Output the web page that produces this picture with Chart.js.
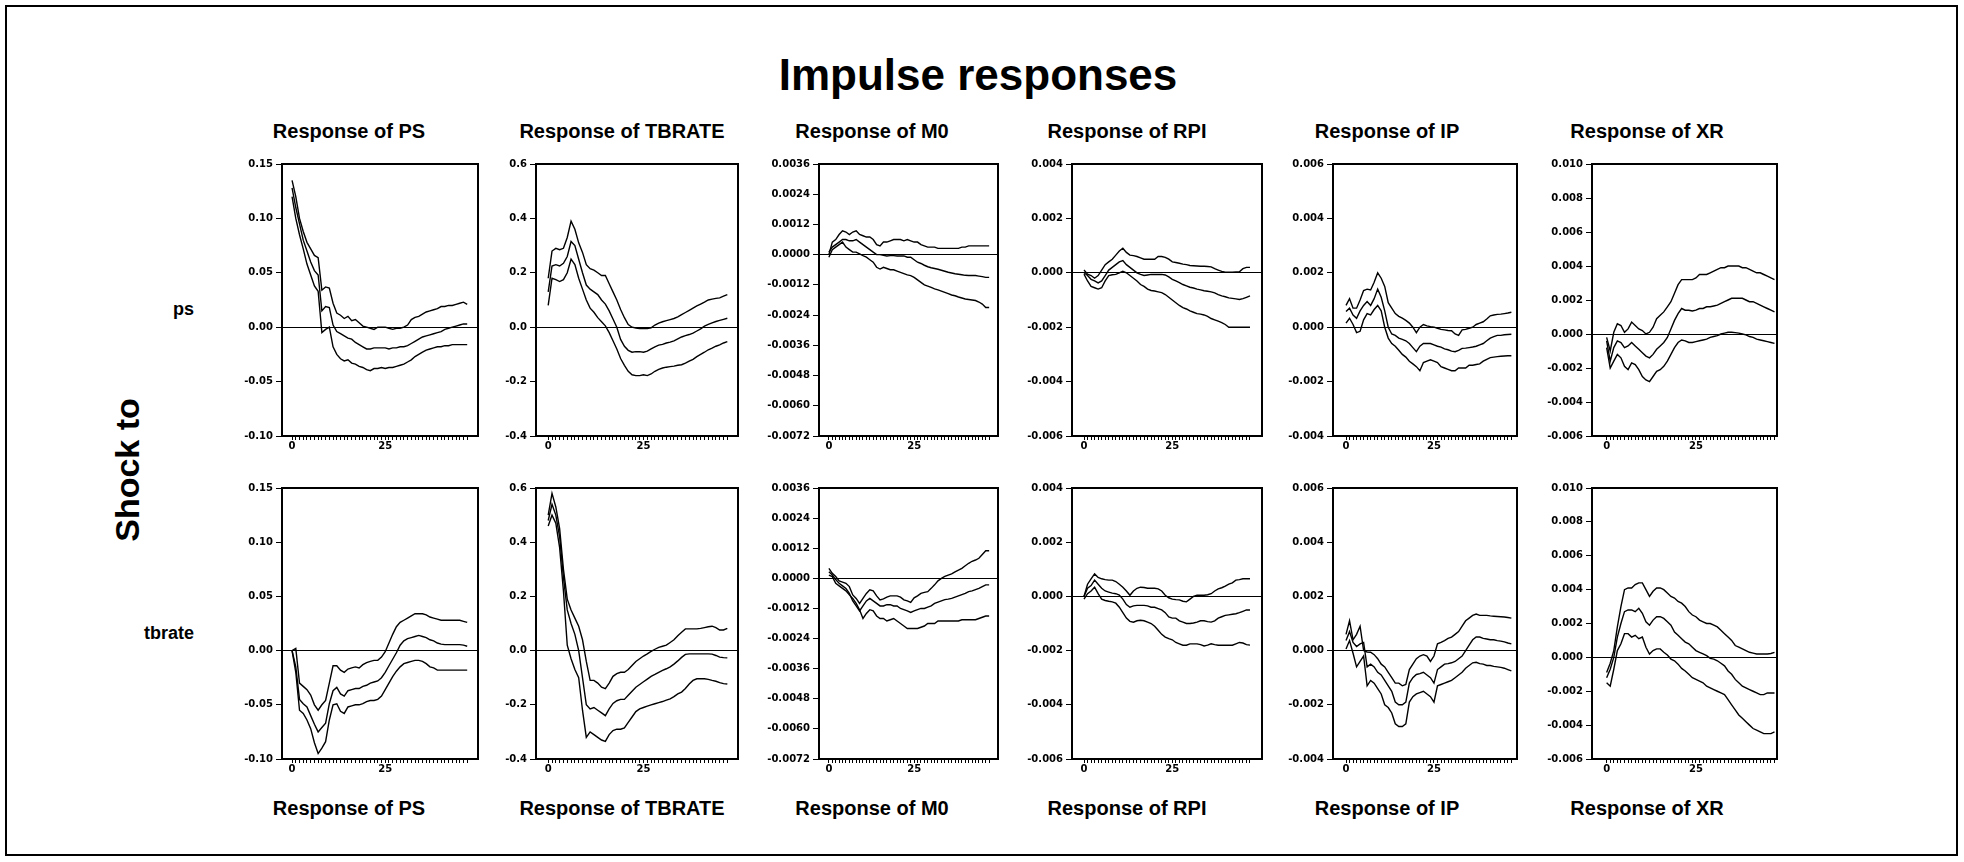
<!DOCTYPE html>
<html>
<head>
<meta charset="utf-8">
<title>Impulse responses</title>
<script src="https://cdn.jsdelivr.net/npm/chart.js@4.4.1/dist/chart.umd.min.js"></script>
<style>
  html, body { margin: 0; padding: 0; background: #fff; }
  body { width: 1964px; height: 862px; position: relative; overflow: hidden; font-family: "Liberation Sans", Arial, sans-serif; color: #000; }
  .frame { position: absolute; left: 5px; top: 5px; width: 1953px; height: 851px; border: 2px solid #000; box-sizing: border-box; }
  .lbl { position: absolute; font-weight: bold; white-space: nowrap; transform: translate(-50%, -50%); }
  canvas { position: absolute; }
</style>
</head>
<body>
<div class="frame"></div>
<div class="lbl" style="left:978px;top:75px;font-size:44px;">Impulse responses</div>
<div class="lbl" style="left:127px;top:470px;font-size:34px;transform:translate(-50%,-50%) rotate(-90deg);">Shock to</div>
<script>
// horizon (periods) and tick labels
const periods = [0,1,2,3,4,5,6,7,8,9,10,11,12,13,14,15,16,17,18,19,20,21,22,23,24,25,26,27,28,29,30,31,32,33,34,35,36,37,38,39,40,41,42,43,44,45,46,47];
const xTickLabels = [0, 25];

const responseNames = ['PS', 'TBRATE', 'M0', 'RPI', 'IP', 'XR'];
const shockNames = ['ps', 'tbrate'];

const yMin = [-0.10, -0.4, -0.0072, -0.006, -0.004, -0.006];
const yMax = [0.15, 0.6, 0.0036, 0.004, 0.006, 0.010];
const yStep = [0.05, 0.2, 0.0012, 0.002, 0.002, 0.002];
const yDecimals = [2, 1, 4, 3, 3, 3];

// shock to ps
const ps_PS_hi  = [0.135,0.12,0.10,0.088,0.078,0.072,0.066,0.064,0.034,0.037,0.036,0.022,0.013,0.011,0.008,0.010,0.006,0.007,0.004,0.001,0.000,-0.001,-0.002,0.000,0.000,0.000,-0.001,-0.002,-0.001,-0.001,0.000,0.002,0.007,0.009,0.010,0.012,0.014,0.015,0.016,0.017,0.019,0.019,0.020,0.020,0.021,0.022,0.023,0.021];
const ps_PS_mid = [0.128,0.11,0.095,0.08,0.07,0.06,0.052,0.048,0.015,0.019,0.018,0.002,-0.004,-0.006,-0.008,-0.010,-0.011,-0.014,-0.016,-0.018,-0.020,-0.020,-0.019,-0.019,-0.019,-0.019,-0.020,-0.019,-0.019,-0.018,-0.018,-0.017,-0.015,-0.013,-0.011,-0.009,-0.008,-0.007,-0.006,-0.005,-0.004,-0.002,-0.001,0.000,0.001,0.002,0.003,0.003];
const ps_PS_lo  = [0.12,0.10,0.085,0.072,0.058,0.048,0.038,0.033,-0.005,-0.002,0.000,-0.018,-0.025,-0.029,-0.031,-0.030,-0.033,-0.034,-0.036,-0.037,-0.039,-0.040,-0.038,-0.038,-0.037,-0.038,-0.037,-0.037,-0.036,-0.035,-0.034,-0.032,-0.030,-0.027,-0.025,-0.023,-0.021,-0.020,-0.019,-0.018,-0.018,-0.017,-0.017,-0.016,-0.016,-0.016,-0.016,-0.016];

const ps_TBRATE_hi  = [0.18,0.28,0.29,0.285,0.29,0.33,0.39,0.36,0.31,0.275,0.23,0.215,0.21,0.20,0.19,0.19,0.16,0.13,0.10,0.065,0.035,0.01,0.0,-0.003,-0.005,-0.005,-0.005,-0.002,0.008,0.015,0.02,0.024,0.028,0.032,0.038,0.046,0.054,0.062,0.07,0.078,0.085,0.092,0.10,0.103,0.106,0.108,0.114,0.12];
const ps_TBRATE_mid = [0.13,0.225,0.23,0.225,0.235,0.26,0.315,0.30,0.25,0.20,0.155,0.14,0.13,0.12,0.10,0.085,0.06,0.03,0.0,-0.045,-0.07,-0.085,-0.092,-0.09,-0.09,-0.092,-0.088,-0.08,-0.072,-0.066,-0.063,-0.058,-0.055,-0.05,-0.043,-0.036,-0.031,-0.027,-0.022,-0.014,-0.006,0.004,0.01,0.016,0.021,0.025,0.029,0.033];
const ps_TBRATE_lo  = [0.08,0.18,0.175,0.168,0.175,0.20,0.25,0.23,0.18,0.14,0.10,0.07,0.055,0.035,0.02,0.005,-0.02,-0.05,-0.08,-0.115,-0.14,-0.162,-0.175,-0.178,-0.178,-0.175,-0.178,-0.172,-0.162,-0.155,-0.15,-0.147,-0.145,-0.143,-0.14,-0.138,-0.132,-0.125,-0.118,-0.108,-0.10,-0.092,-0.083,-0.077,-0.07,-0.065,-0.058,-0.053];

const ps_M0_hi  = [0.0,0.0005,0.0006,0.0008,0.00095,0.0009,0.0008,0.0009,0.00095,0.0008,0.00075,0.0007,0.0007,0.0006,0.0004,0.00035,0.0005,0.0005,0.00055,0.0006,0.0006,0.0006,0.00055,0.0006,0.00055,0.0005,0.0005,0.0004,0.00035,0.0003,0.0003,0.0003,0.00025,0.00025,0.00025,0.00025,0.00025,0.00025,0.00025,0.0003,0.0003,0.00035,0.00035,0.00035,0.00035,0.00035,0.00035,0.00035];
const ps_M0_mid = [0.0001,0.0003,0.0004,0.0005,0.0006,0.0006,0.00055,0.00055,0.0006,0.0005,0.0004,0.0003,0.0002,0.0001,0.0,0.0,-0.00003,-0.00005,-0.00004,-0.00004,-0.00005,-0.00005,-0.00005,-0.0001,-0.0001,-0.0002,-0.0003,-0.00035,-0.00042,-0.00048,-0.00052,-0.00055,-0.00058,-0.00062,-0.00066,-0.0007,-0.00073,-0.00076,-0.00078,-0.0008,-0.00082,-0.00083,-0.00083,-0.00083,-0.00085,-0.00087,-0.0009,-0.0009];
const ps_M0_lo  = [-0.0001,0.0002,0.0003,0.0004,0.0005,0.0003,0.0002,0.0001,0.0001,0.00003,-0.00004,-0.0001,-0.0002,-0.0003,-0.0005,-0.00057,-0.0005,-0.00055,-0.0006,-0.0006,-0.00065,-0.0007,-0.00075,-0.0008,-0.00083,-0.0009,-0.001,-0.0011,-0.0012,-0.00125,-0.0013,-0.00136,-0.0014,-0.00145,-0.0015,-0.00155,-0.0016,-0.00163,-0.00168,-0.00172,-0.00176,-0.00178,-0.0018,-0.00182,-0.00188,-0.00196,-0.0021,-0.0021];

const ps_RPI_hi  = [0.0001,-0.00005,-0.0001,-0.0002,-0.0001,0.0001,0.0003,0.0004,0.0005,0.00065,0.0008,0.0009,0.00075,0.00065,0.00063,0.0006,0.00055,0.0005,0.0005,0.0005,0.0005,0.0006,0.0006,0.00057,0.0005,0.0004,0.00038,0.00035,0.00032,0.0003,0.00027,0.00026,0.00025,0.00024,0.00024,0.00023,0.00022,0.00015,0.0001,0.00005,0.00002,0.00002,0.00002,0.00003,0.00004,0.00015,0.0002,0.0002];
const ps_RPI_mid = [0.0,-0.0001,-0.00024,-0.0003,-0.00037,-0.0003,-0.0001,0.0001,0.0002,0.0003,0.0004,0.00045,0.0003,0.0002,0.0001,0.0,-0.00006,-0.0001,-0.00008,-0.00006,-0.00006,-0.00006,-0.00006,-0.00008,-0.00015,-0.00024,-0.0003,-0.00036,-0.00043,-0.00048,-0.00053,-0.00056,-0.0006,-0.00063,-0.00066,-0.00068,-0.0007,-0.00074,-0.0008,-0.00085,-0.00088,-0.00092,-0.00094,-0.00096,-0.00098,-0.00095,-0.0009,-0.00085];
const ps_RPI_lo  = [-0.00005,-0.0003,-0.0005,-0.00055,-0.0006,-0.00055,-0.0003,-0.0001,-0.00007,-0.00006,0.0,0.00006,0.0,-0.0001,-0.0002,-0.0003,-0.00043,-0.0005,-0.0006,-0.00065,-0.00067,-0.0007,-0.00073,-0.0008,-0.0009,-0.001,-0.0011,-0.0012,-0.00128,-0.00133,-0.0014,-0.00145,-0.0015,-0.00152,-0.00155,-0.0016,-0.00168,-0.00173,-0.00178,-0.00183,-0.0019,-0.002,-0.002,-0.002,-0.002,-0.002,-0.002,-0.002];

const ps_IP_hi  = [0.0008,0.00105,0.0007,0.0007,0.001,0.00135,0.0014,0.00137,0.00165,0.002,0.0018,0.0015,0.0009,0.0007,0.0005,0.0004,0.00033,0.00025,0.00015,0.0,-0.0002,0.0,0.0001,0.00005,0.00002,0.0,-0.00004,-0.00008,-0.0001,-0.00012,-0.00013,-0.00025,-0.0003,-0.0001,-0.00008,-0.00004,0.0,0.0001,0.00015,0.0002,0.0003,0.00042,0.00045,0.00047,0.00048,0.0005,0.00052,0.00055];
const ps_IP_mid = [0.00058,0.0007,0.00045,0.00033,0.0006,0.0008,0.00094,0.0008,0.00105,0.0014,0.0011,0.0006,0.0,-0.00025,-0.0003,-0.0004,-0.00045,-0.0005,-0.0006,-0.00075,-0.0009,-0.0007,-0.0006,-0.0006,-0.0006,-0.00065,-0.0007,-0.00073,-0.0008,-0.00083,-0.00088,-0.0009,-0.00085,-0.00078,-0.00077,-0.00075,-0.00073,-0.0007,-0.00065,-0.0006,-0.0005,-0.0004,-0.00035,-0.0003,-0.0003,-0.00028,-0.00027,-0.00026];
const ps_IP_lo  = [0.00015,0.00033,0.0001,-0.0002,-0.00015,0.00027,0.0005,0.00045,0.00065,0.0008,0.0006,0.0,-0.0004,-0.0006,-0.0007,-0.00085,-0.001,-0.0011,-0.00125,-0.00135,-0.00145,-0.0016,-0.0013,-0.00125,-0.0012,-0.00125,-0.0013,-0.00145,-0.0015,-0.00155,-0.0016,-0.0016,-0.0015,-0.0015,-0.0015,-0.0014,-0.0014,-0.00137,-0.00135,-0.00125,-0.00118,-0.00112,-0.0011,-0.00108,-0.00107,-0.00106,-0.00105,-0.00105];

const ps_XR_hi  = [-0.0002,-0.001,0.0001,0.0006,0.0005,0.0001,0.0003,0.0007,0.0005,0.0003,0.0002,0.0,0.0001,0.0004,0.0009,0.0011,0.0013,0.0016,0.0019,0.0024,0.0029,0.0032,0.0032,0.0032,0.0032,0.0033,0.0035,0.0035,0.0035,0.0036,0.0037,0.0038,0.0039,0.0039,0.004,0.004,0.004,0.004,0.0039,0.0039,0.0038,0.0037,0.0036,0.0036,0.0035,0.0034,0.0033,0.0032];
const ps_XR_mid = [-0.0004,-0.0016,-0.0008,-0.0004,-0.0005,-0.0008,-0.0007,-0.0005,-0.0007,-0.0009,-0.0011,-0.0013,-0.0014,-0.0012,-0.0009,-0.0007,-0.0005,-0.0002,0.0003,0.0008,0.0012,0.0015,0.0014,0.0014,0.00135,0.0014,0.0015,0.0015,0.0016,0.0016,0.00165,0.0017,0.0018,0.0019,0.002,0.0021,0.0021,0.0021,0.0021,0.002,0.0019,0.0019,0.0018,0.0017,0.0016,0.0015,0.0014,0.0013];
const ps_XR_lo  = [-0.0008,-0.002,-0.0016,-0.0012,-0.0014,-0.0019,-0.0021,-0.0017,-0.0018,-0.0021,-0.0025,-0.0027,-0.0028,-0.0025,-0.0022,-0.0021,-0.0019,-0.0016,-0.0012,-0.0008,-0.0005,-0.00035,-0.0004,-0.0005,-0.0005,-0.00045,-0.0004,-0.00035,-0.0003,-0.0002,-0.00015,-0.0001,0.0,0.00005,0.0001,0.0001,0.00008,0.00005,0.0,-0.00005,-0.00015,-0.0002,-0.0003,-0.00035,-0.0004,-0.00045,-0.0005,-0.00055];

// shock to tbrate
const tb_PS_hi  = [0.0,0.002,-0.03,-0.033,-0.036,-0.041,-0.05,-0.055,-0.05,-0.046,-0.03,-0.014,-0.014,-0.018,-0.02,-0.017,-0.016,-0.015,-0.016,-0.013,-0.011,-0.01,-0.009,-0.009,-0.006,-0.001,0.007,0.015,0.022,0.026,0.028,0.03,0.032,0.034,0.034,0.034,0.033,0.031,0.03,0.029,0.028,0.028,0.028,0.028,0.028,0.028,0.027,0.026];
const tb_PS_mid = [0.0,-0.015,-0.045,-0.049,-0.052,-0.06,-0.068,-0.075,-0.071,-0.067,-0.049,-0.037,-0.034,-0.04,-0.042,-0.037,-0.036,-0.035,-0.035,-0.033,-0.032,-0.03,-0.029,-0.028,-0.025,-0.02,-0.014,-0.008,-0.002,0.005,0.009,0.011,0.012,0.013,0.014,0.013,0.012,0.01,0.009,0.007,0.006,0.0055,0.0055,0.0055,0.0055,0.0055,0.005,0.004];
const tb_PS_lo  = [0.0,-0.02,-0.055,-0.058,-0.064,-0.072,-0.085,-0.095,-0.09,-0.084,-0.064,-0.05,-0.049,-0.056,-0.058,-0.052,-0.051,-0.05,-0.05,-0.049,-0.047,-0.046,-0.046,-0.045,-0.042,-0.036,-0.03,-0.024,-0.019,-0.015,-0.012,-0.011,-0.01,-0.009,-0.009,-0.01,-0.012,-0.015,-0.016,-0.018,-0.018,-0.018,-0.018,-0.018,-0.018,-0.018,-0.018,-0.018];

const tb_TBRATE_hi  = [0.5,0.58,0.53,0.45,0.3,0.19,0.15,0.12,0.09,0.04,-0.04,-0.11,-0.11,-0.12,-0.135,-0.14,-0.12,-0.095,-0.085,-0.08,-0.08,-0.07,-0.055,-0.04,-0.03,-0.02,-0.012,-0.003,0.005,0.012,0.016,0.02,0.03,0.04,0.055,0.068,0.08,0.08,0.08,0.08,0.082,0.085,0.088,0.09,0.085,0.076,0.076,0.082];
const tb_TBRATE_mid = [0.48,0.54,0.5,0.42,0.27,0.15,0.1,0.06,0.0,-0.1,-0.2,-0.215,-0.21,-0.22,-0.23,-0.24,-0.215,-0.195,-0.185,-0.18,-0.18,-0.165,-0.15,-0.135,-0.125,-0.115,-0.105,-0.095,-0.088,-0.08,-0.073,-0.067,-0.06,-0.05,-0.038,-0.025,-0.014,-0.012,-0.012,-0.012,-0.012,-0.012,-0.012,-0.013,-0.018,-0.024,-0.026,-0.027];
const tb_TBRATE_lo  = [0.46,0.5,0.47,0.38,0.22,0.02,-0.03,-0.07,-0.1,-0.22,-0.32,-0.3,-0.31,-0.32,-0.33,-0.335,-0.31,-0.295,-0.29,-0.29,-0.285,-0.265,-0.245,-0.225,-0.215,-0.21,-0.205,-0.2,-0.196,-0.192,-0.188,-0.183,-0.178,-0.17,-0.16,-0.153,-0.14,-0.123,-0.11,-0.104,-0.104,-0.104,-0.106,-0.11,-0.113,-0.118,-0.122,-0.123];

const tb_M0_hi  = [0.0004,0.0002,0.00007,-0.0001,-0.00015,-0.0002,-0.00033,-0.00066,-0.0008,-0.001,-0.0008,-0.0006,-0.00046,-0.0005,-0.0007,-0.00086,-0.00082,-0.00075,-0.0007,-0.0007,-0.0007,-0.00075,-0.00086,-0.0009,-0.00096,-0.00078,-0.0007,-0.0006,-0.00056,-0.00053,-0.0004,-0.00026,-0.0001,0.0,0.00008,0.00013,0.00018,0.00026,0.00033,0.0004,0.0005,0.0006,0.00068,0.00073,0.0008,0.00095,0.0011,0.0011];
const tb_M0_mid = [0.00026,0.00013,-0.00005,-0.0002,-0.0003,-0.0004,-0.0006,-0.0009,-0.0011,-0.0013,-0.0011,-0.0009,-0.0008,-0.0009,-0.001,-0.0011,-0.0011,-0.00105,-0.00105,-0.0011,-0.0011,-0.0012,-0.00125,-0.0013,-0.00136,-0.0013,-0.00125,-0.0012,-0.0012,-0.00115,-0.0011,-0.001,-0.00095,-0.0009,-0.00085,-0.00083,-0.0008,-0.00075,-0.0007,-0.00065,-0.0006,-0.00053,-0.0005,-0.00045,-0.0004,-0.00033,-0.00026,-0.00026];
const tb_M0_lo  = [0.00013,0.00007,-0.0002,-0.0003,-0.0004,-0.0005,-0.00066,-0.0008,-0.001,-0.00125,-0.0016,-0.0014,-0.00125,-0.0013,-0.0015,-0.0016,-0.0016,-0.0017,-0.00165,-0.0016,-0.0017,-0.0018,-0.0019,-0.002,-0.002,-0.002,-0.002,-0.00195,-0.0019,-0.0018,-0.0018,-0.0018,-0.0017,-0.0017,-0.0017,-0.0017,-0.0017,-0.0017,-0.0017,-0.00165,-0.00165,-0.00165,-0.00165,-0.00165,-0.0016,-0.00155,-0.0015,-0.0015];

const tb_RPI_hi  = [0.0,0.00045,0.00065,0.00083,0.0007,0.00065,0.00062,0.0006,0.0006,0.00055,0.00045,0.00034,0.0002,0.00004,0.0002,0.0003,0.00034,0.00033,0.0003,0.0003,0.0003,0.00028,0.0002,0.00004,-0.00005,-0.0001,-0.00012,-0.00013,-0.00018,-0.0002,-0.0001,0.0,0.00004,0.00004,0.00004,0.00006,0.0001,0.0002,0.00028,0.00032,0.00038,0.00045,0.0005,0.0006,0.00062,0.00065,0.00065,0.00065];
const tb_RPI_mid = [0.0,0.0003,0.0004,0.0006,0.00045,0.0003,0.0002,0.00016,0.00012,0.0001,0.00005,-0.0001,-0.0003,-0.0004,-0.00035,-0.00033,-0.00033,-0.00033,-0.00035,-0.0004,-0.0004,-0.00045,-0.0005,-0.0006,-0.00076,-0.0008,-0.0008,-0.0009,-0.00095,-0.001,-0.001,-0.00098,-0.00095,-0.0009,-0.0009,-0.00093,-0.00095,-0.0009,-0.0008,-0.00075,-0.0007,-0.00068,-0.00066,-0.00064,-0.0006,-0.00055,-0.0005,-0.0005];
const tb_RPI_lo  = [-0.0001,0.0001,0.0002,0.00034,0.0001,-0.0001,-0.00015,-0.00018,-0.0002,-0.00025,-0.0004,-0.0006,-0.0008,-0.00092,-0.00095,-0.0009,-0.00088,-0.0009,-0.00095,-0.001,-0.0011,-0.00125,-0.0014,-0.0015,-0.00156,-0.0016,-0.0017,-0.00175,-0.0018,-0.0018,-0.00175,-0.00175,-0.00175,-0.00178,-0.00183,-0.0018,-0.00175,-0.00178,-0.0018,-0.0018,-0.0018,-0.0018,-0.0018,-0.00175,-0.0017,-0.00172,-0.00178,-0.0018];

const tb_IP_hi  = [0.0006,0.0011,0.0004,0.0006,0.0009,0.0,-0.00005,-0.00006,-0.00015,-0.0003,-0.0005,-0.0006,-0.0008,-0.001,-0.0012,-0.0012,-0.0013,-0.00125,-0.0007,-0.0005,-0.0003,-0.0002,-0.00015,-0.0002,-0.0004,-0.0002,0.00025,0.0003,0.00037,0.00045,0.0005,0.0006,0.0007,0.0009,0.0011,0.0012,0.0013,0.00135,0.0013,0.0013,0.0013,0.00128,0.00127,0.00126,0.00125,0.00124,0.00122,0.0012];
const tb_IP_mid = [0.00037,0.0007,0.0003,0.00015,0.00025,0.0003,-0.0006,-0.0005,-0.0006,-0.0008,-0.0009,-0.0011,-0.0013,-0.0015,-0.0019,-0.002,-0.002,-0.0019,-0.0012,-0.001,-0.00088,-0.00085,-0.0008,-0.0009,-0.001,-0.0012,-0.0007,-0.0006,-0.0005,-0.00048,-0.00045,-0.0004,-0.0003,-0.0002,0.0,0.0002,0.0004,0.0005,0.0005,0.00045,0.00043,0.0004,0.0004,0.00037,0.00035,0.00032,0.00028,0.00025];
const tb_IP_lo  = [0.00006,0.00037,-0.0001,-0.0006,-0.0004,-0.0002,-0.0013,-0.0011,-0.0012,-0.0014,-0.0016,-0.002,-0.0021,-0.0023,-0.0027,-0.0028,-0.0028,-0.0027,-0.0019,-0.0017,-0.0016,-0.00155,-0.0015,-0.0016,-0.0017,-0.0019,-0.0013,-0.00125,-0.0012,-0.00115,-0.0011,-0.001,-0.0009,-0.0008,-0.00065,-0.00055,-0.00045,-0.00043,-0.00048,-0.0005,-0.00055,-0.00055,-0.00058,-0.0006,-0.00062,-0.00065,-0.0007,-0.00075];

const tb_XR_hi  = [-0.0009,-0.00035,0.0004,0.0018,0.003,0.004,0.0041,0.0041,0.0043,0.0044,0.0044,0.004,0.0036,0.0039,0.0041,0.0041,0.004,0.0038,0.0036,0.0035,0.0033,0.0032,0.003,0.0027,0.0025,0.0024,0.0022,0.0021,0.002,0.002,0.0019,0.0018,0.0016,0.0014,0.0012,0.001,0.0007,0.0006,0.0005,0.0004,0.0003,0.00025,0.0002,0.0002,0.0002,0.0002,0.00023,0.0003];
const tb_XR_mid = [-0.0012,-0.0007,0.0,0.0012,0.002,0.0027,0.0028,0.0028,0.0027,0.0029,0.0026,0.0021,0.0019,0.0022,0.0024,0.0024,0.0023,0.0021,0.0019,0.0015,0.0013,0.0011,0.0009,0.0008,0.0006,0.0004,0.0003,0.0002,0.0001,-0.00006,-0.0001,-0.0002,-0.00035,-0.0005,-0.0008,-0.001,-0.0013,-0.0015,-0.0017,-0.0018,-0.0019,-0.002,-0.0021,-0.0022,-0.0022,-0.0021,-0.0021,-0.0021];
const tb_XR_lo  = [-0.0015,-0.0017,-0.0007,0.0004,0.0008,0.0014,0.0014,0.0012,0.0013,0.0011,0.0012,0.0006,0.0002,0.0004,0.0005,0.0005,0.0003,0.00014,-0.0001,-0.0002,-0.0004,-0.00065,-0.0008,-0.001,-0.0012,-0.0013,-0.0014,-0.0015,-0.0017,-0.0018,-0.0019,-0.002,-0.0021,-0.0022,-0.0025,-0.0028,-0.0031,-0.0034,-0.0036,-0.0038,-0.004,-0.0042,-0.0043,-0.0044,-0.0045,-0.0045,-0.0045,-0.0044];

const panels = [
  [[ps_PS_lo, ps_PS_mid, ps_PS_hi], [ps_TBRATE_lo, ps_TBRATE_mid, ps_TBRATE_hi], [ps_M0_lo, ps_M0_mid, ps_M0_hi],
   [ps_RPI_lo, ps_RPI_mid, ps_RPI_hi], [ps_IP_lo, ps_IP_mid, ps_IP_hi], [ps_XR_lo, ps_XR_mid, ps_XR_hi]],
  [[tb_PS_lo, tb_PS_mid, tb_PS_hi], [tb_TBRATE_lo, tb_TBRATE_mid, tb_TBRATE_hi], [tb_M0_lo, tb_M0_mid, tb_M0_hi],
   [tb_RPI_lo, tb_RPI_mid, tb_RPI_hi], [tb_IP_lo, tb_IP_mid, tb_IP_hi], [tb_XR_lo, tb_XR_mid, tb_XR_hi]]
];

// page layout (pixels)
const colBounds = [[282, 478], [536, 738], [819, 998], [1072, 1262], [1333, 1517], [1592, 1777]];
const rowBounds = [[163, 436], [487, 759]];
const xMin = [-2.7, -3.2, -2.9, -3.4, -3.7, -4.1];
const xMax = [49.9, 49.8, 49.6, 50.4, 48.6, 47.7];
const titleCenters = [349, 622, 872, 1127, 1387, 1647];
const YW = 62, PT = 8, PR = 4, XH = 22;

const tickFont = { family: 'DejaVu Sans', size: 10, weight: 'bold' };

const boxPlugin = {
  id: 'box',
  afterDraw(chart) {
    const a = chart.chartArea, c = chart.ctx;
    c.save();
    c.strokeStyle = '#000';
    c.lineWidth = 2;
    c.strokeRect(a.left, a.top, a.right - a.left, a.bottom - a.top);
    c.restore();
  }
};

function addLabel(text, x, y, size, extra) {
  const d = document.createElement('div');
  d.className = 'lbl';
  d.textContent = text;
  d.style.left = x + 'px';
  d.style.top = y + 'px';
  d.style.fontSize = size + 'px';
  if (extra) Object.assign(d.style, extra);
  document.body.appendChild(d);
}

responseNames.forEach((name, c) => {
  addLabel('Response of ' + name, titleCenters[c], 131, 20);
  addLabel('Response of ' + name, titleCenters[c], 808, 20);
});
addLabel(shockNames[0], 194, 309, 18, { transform: 'translate(-100%,-50%)' });
addLabel(shockNames[1], 194, 633, 18, { transform: 'translate(-100%,-50%)' });

for (let r = 0; r < 2; r++) {
  for (let c = 0; c < 6; c++) {
    const [L, R] = colBounds[c];
    const [T, B] = rowBounds[r];
    const cv = document.createElement('canvas');
    const w = YW + (R - L) + PR, h = PT + (B - T) + XH;
    cv.width = w; cv.height = h;
    cv.style.left = (L - YW) + 'px';
    cv.style.top = (T - PT) + 'px';
    cv.style.width = w + 'px';
    cv.style.height = h + 'px';
    document.body.appendChild(cv);

    const dec = yDecimals[c];
    new Chart(cv, {
      type: 'line',
      data: {
        datasets: panels[r][c].map(series => ({
          data: series.map((v, i) => ({ x: periods[i], y: v })),
          borderColor: '#000',
          borderWidth: 1.4,
          pointRadius: 0,
          tension: 0,
          fill: false
        }))
      },
      options: {
        responsive: false,
        animation: false,
        devicePixelRatio: 1,
        layout: { padding: { top: PT, right: PR, left: 0, bottom: 0 } },
        plugins: { legend: { display: false }, tooltip: { enabled: false } },
        scales: {
          x: {
            type: 'linear',
            min: xMin[c],
            max: xMax[c],
            afterBuildTicks: s => { s.ticks = periods.map(p => ({ value: p })); },
            afterFit: s => { s.height = XH; },
            border: { display: false },
            grid: { drawOnChartArea: false, drawTicks: true, tickLength: 4, tickColor: '#000' },
            ticks: {
              autoSkip: false, maxRotation: 0, minRotation: 0, padding: 0,
              color: '#000', font: tickFont,
              callback: v => xTickLabels.includes(v) ? String(v) : ''
            }
          },
          y: {
            min: yMin[c],
            max: yMax[c],
            afterFit: s => { s.width = YW; },
            border: { display: false },
            grid: {
              color: ctx => Math.abs(ctx.tick.value) < 1e-12 ? '#000' : 'rgba(0,0,0,0)',
              lineWidth: 1,
              drawTicks: true, tickLength: 6, tickColor: '#000'
            },
            ticks: {
              stepSize: yStep[c], padding: 3, color: '#000', font: tickFont,
              callback: v => (Math.abs(v) < 1e-12 ? 0 : v).toFixed(dec)
            }
          }
        }
      },
      plugins: [boxPlugin]
    });
  }
}
</script>
</body>
</html>
